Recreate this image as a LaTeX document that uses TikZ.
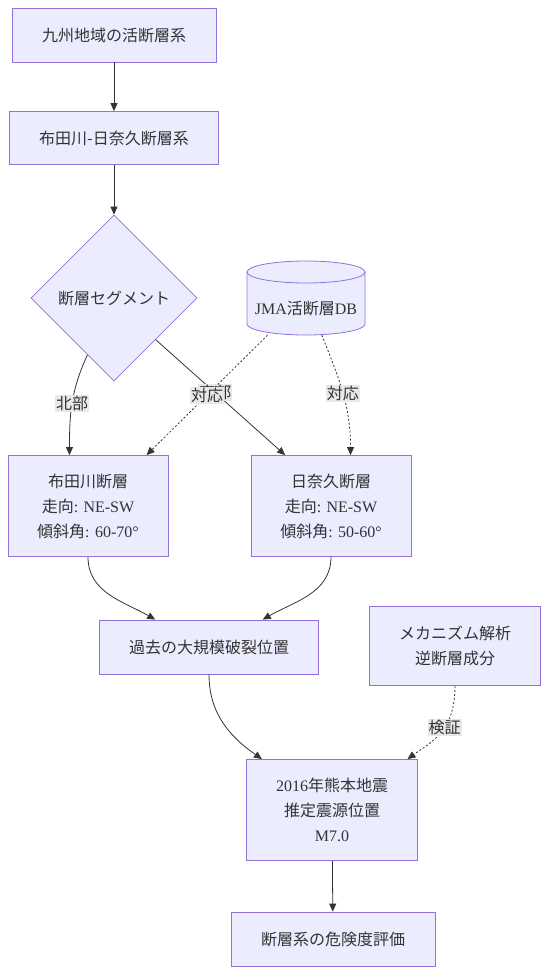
\documentclass[tikz,border=0pt]{standalone}
\usepackage{fontspec}
\setmainfont{Liberation Serif}
\newfontfamily\jpfont{Noto Sans CJK JP}
\usepackage{tikz}
\usetikzlibrary{shapes.geometric,arrows.meta,positioning}
\definecolor{boxfill}{HTML}{ECECFF}
\definecolor{boxline}{HTML}{9370DB}
\definecolor{edgecol}{HTML}{333333}
\definecolor{lblfill}{HTML}{E8E8E8}
\newcommand{\jp}[1]{{\jpfont #1}}

\begin{document}
\begin{tikzpicture}[x=1pt,y=1pt,font=\fontsize{16}{25}\selectfont,text=edgecol,
	>={Triangle[length=8pt,width=7pt]},
	box/.style={draw=boxline,fill=boxfill,align=center,inner sep=0pt,line width=0.8pt},
	decision/.style={diamond,draw=boxline,fill=boxfill,inner sep=0pt,line width=0.8pt,
		minimum width=166pt,minimum height=166pt},
	link/.style={->,draw=edgecol,line width=0.8pt},
	dotlink/.style={link,dash pattern=on 2pt off 2pt},
	lbl/.style={fill=lblfill,inner sep=1pt,font=\jpfont\fontsize{16}{18}\selectfont}]
	\useasboundingbox (0,0) rectangle (550,-974);

	%nodes
	\node[box,minimum width=204pt,minimum height=54pt] (n_kyushu) at (114,-35) {\jp{九州地域の活断層系}};
	\node[box,minimum width=209pt,minimum height=53pt] (n_system) at (114,-138) {\jp{布田川-日奈久断層系}};
	\node[decision] (n_segment) at (114,-298) {\jp{断層セグメント}};

	%database cylinder
	\path[fill=boxfill,draw=boxline,line width=0.8pt] (247,-272) -- (247,-324)
		arc[start angle=180,end angle=360,x radius=59,y radius=11] -- (365,-272)
		arc[start angle=0,end angle=180,x radius=59,y radius=11] -- cycle;
	\draw[boxline,line width=0.8pt] (247,-272) arc[start angle=180,end angle=360,x radius=59,y radius=11];
	\node[minimum width=118pt,minimum height=74pt,inner sep=0pt] (n_jma) at (306,-298) {};
	\node (n_jmatext) at (306,-309) {JMA\jp{活断層}DB};

	\node[box,minimum width=160pt,minimum height=101pt] (n_futagawa) at (88,-506)
		{\jp{布田川断層}\\\jp{走向}: NE-SW\\\jp{傾斜角}: 60-70°};
	\node[box,minimum width=160pt,minimum height=101pt] (n_hinagu) at (331,-506)
		{\jp{日奈久断層}\\\jp{走向}: NE-SW\\\jp{傾斜角}: 50-60°};
	\node[box,minimum width=219pt,minimum height=54pt] (n_rupture) at (209,-647) {\jp{過去の大規模破裂位置}};
	\node[box,minimum width=171pt,minimum height=79pt] (n_mech) at (455,-646) {\jp{メカニズム解析}\\\jp{逆断層成分}};
	\node[box,minimum width=171pt,minimum height=101pt] (n_quake) at (332,-810)
		{2016\jp{年熊本地震}\\\jp{推定震源位置}\\M7.0};
	\node[box,minimum width=204pt,minimum height=54pt] (n_eval) at (333,-939) {\jp{断層系の危険度評価}};

	%connectors
	\draw[link] (n_kyushu) -- (n_system);
	\draw[link] (n_system) -- (n_segment);
	\draw[link] (n_segment.-115) to[out=-115,in=90] node[lbl]{北部} (n_futagawa.110);
	\draw[link] (n_segment.south east) -- node[lbl,pos=0.46]{南部} (n_hinagu.132);
	\draw[dotlink] (n_jma.-136) -- node[lbl]{対応} (n_futagawa.41);
	\draw[dotlink] (n_jma.-67) to[out=-68,in=90] node[lbl]{対応} (n_hinagu.69);
	\draw[link] (n_futagawa.south) to[out=-90,in=150] (n_rupture.153);
	\draw[link] (n_hinagu.south) to[out=-90,in=30] (n_rupture.27);
	\draw[link] (n_rupture.south) to[out=-90,in=145] (n_quake.144);
	\draw[dotlink] (n_mech.south) .. controls +(0,-45) and +(25,18) .. node[lbl,pos=0.42]{検証} (n_quake.34);
	\draw[link] (n_quake) -- (n_eval);
\end{tikzpicture}
\end{document}
